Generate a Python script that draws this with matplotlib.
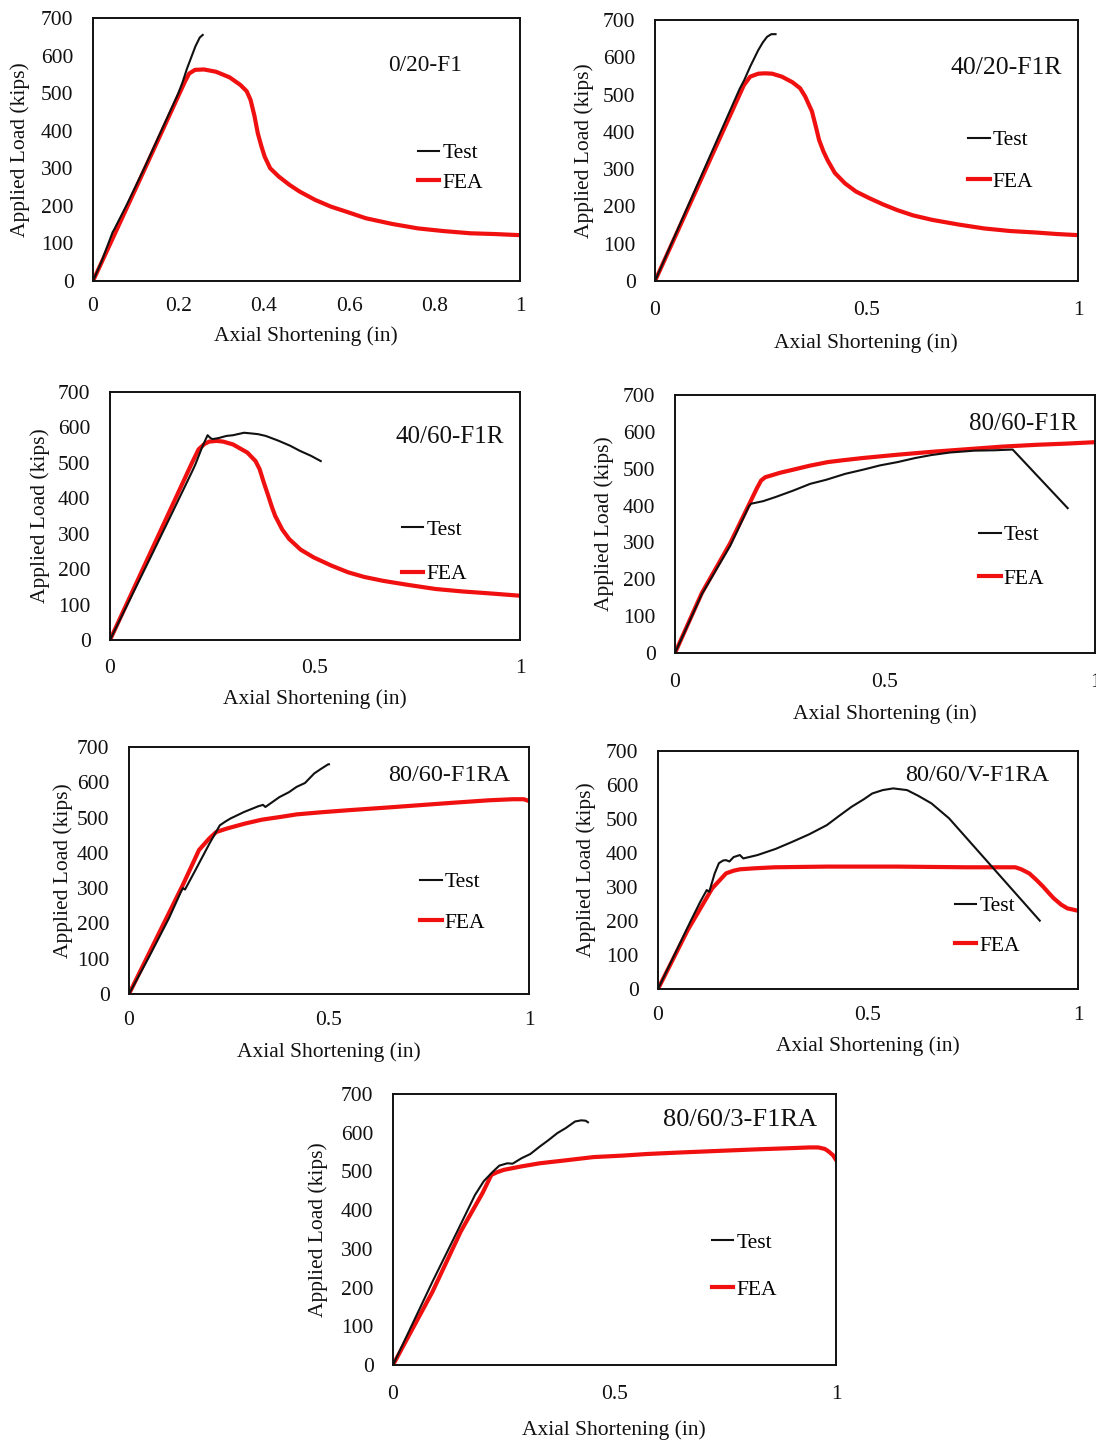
import matplotlib
matplotlib.use("Agg")
import matplotlib.pyplot as plt

# ---------------- data ----------------
titles = ["0/20-F1", "40/20-F1R", "40/60-F1R", "80/60-F1R",
          "80/60-F1RA", "80/60/V-F1RA", "80/60/3-F1RA"]
x_label = "Axial Shortening (in)"
y_label = "Applied Load (kips)"
yticks = [0, 100, 200, 300, 400, 500, 600, 700]
xticks_fine = [0, 0.2, 0.4, 0.6, 0.8, 1]
xticklabels_fine = ["0", "0.2", "0.4", "0.6", "0.8", "1"]
xticks_coarse = [0, 0.5, 1]
xticklabels_coarse = ["0", "0.5", "1"]

# 0/20-F1
p1_test_x = [0, 0.02, 0.04, 0.046, 0.05, 0.08, 0.12, 0.16, 0.20, 0.21, 0.22, 0.23, 0.24, 0.25, 0.257]
p1_test_y = [0, 52, 112, 130, 138, 205, 300, 400, 500, 530, 565, 595, 625, 648, 655]
p1_fea_x = [0, 0.1, 0.2, 0.215, 0.225, 0.239, 0.26, 0.288, 0.32, 0.345, 0.36, 0.369, 0.378, 0.386,
            0.394, 0.402, 0.415, 0.435, 0.46, 0.484, 0.52, 0.557, 0.60, 0.639, 0.70, 0.761, 0.82,
            0.884, 0.94, 1.0]
p1_fea_y = [0, 246, 493, 530, 552, 562, 563, 557, 542, 522, 505, 482, 440, 393,
            360, 331, 300, 278, 256, 238, 216, 198, 182, 167, 152, 140, 133,
            127, 125, 122]

# 40/20-F1R
p2_test_x = [0, 0.1, 0.2, 0.211, 0.225, 0.244, 0.255, 0.265, 0.275, 0.285]
p2_test_y = [0, 258, 515, 539, 575, 619, 640, 655, 662, 662]
p2_fea_x = [0, 0.1, 0.2, 0.21, 0.225, 0.244, 0.26, 0.277, 0.30, 0.325, 0.343, 0.355, 0.365, 0.371,
            0.38, 0.388, 0.398, 0.408, 0.425, 0.449, 0.475, 0.507, 0.54, 0.573, 0.61, 0.655, 0.72,
            0.778, 0.84, 0.901, 0.95, 1.0]
p2_fea_y = [0, 250, 500, 525, 548, 556, 557, 556, 548, 533, 517, 495, 470, 455,
            415, 378, 348, 324, 290, 262, 240, 222, 205, 190, 176, 164, 151,
            141, 134, 130, 126, 123]

# 40/60-F1R
p3_test_x = [0, 0.05, 0.1, 0.15, 0.2, 0.208, 0.225, 0.238, 0.245, 0.250, 0.265, 0.284, 0.30, 0.327,
             0.345, 0.361, 0.38, 0.412, 0.44, 0.463, 0.49, 0.514]
p3_test_y = [0, 118, 236, 355, 475, 495, 545, 578, 570, 567, 570, 576, 578, 585,
             583, 581, 576, 562, 548, 534, 520, 505]
p3_fea_x = [0, 0.1, 0.2, 0.216, 0.23, 0.242, 0.26, 0.276, 0.30, 0.335, 0.355, 0.365, 0.375, 0.386,
            0.395, 0.403, 0.42, 0.437, 0.465, 0.497, 0.54, 0.581, 0.62, 0.666, 0.73, 0.794, 0.86,
            0.921, 1.0]
p3_fea_y = [0, 250, 500, 538, 553, 560, 562, 560, 552, 529, 505, 482, 445, 407,
            375, 350, 312, 285, 255, 233, 210, 191, 178, 167, 155, 144, 137,
            132, 125]

# 80/60-F1R
p4_test_x = [0, 0.064, 0.131, 0.176, 0.181, 0.21, 0.239, 0.28, 0.322, 0.36, 0.405, 0.45, 0.488,
             0.53, 0.572, 0.61, 0.655, 0.713, 0.76, 0.804, 0.935]
p4_test_y = [0, 160, 290, 398, 405, 412, 423, 440, 459, 470, 486, 498, 509,
             518, 529, 537, 544, 549, 550, 552, 393]
p4_fea_x = [0, 0.064, 0.131, 0.181, 0.195, 0.205, 0.215, 0.23, 0.25, 0.28, 0.32, 0.364, 0.40,
            0.447, 0.53, 0.613, 0.696, 0.78, 0.863, 0.93, 1.0]
p4_fea_y = [0, 163, 297, 414, 447, 468, 477, 482, 489, 497, 508, 518, 523,
            529, 538, 546, 553, 560, 565, 568, 572]

# 80/60-F1RA
p5_test_x = [0, 0.05, 0.1, 0.13, 0.135, 0.14, 0.166, 0.201, 0.227, 0.24, 0.253, 0.288, 0.31,
             0.323, 0.335, 0.341, 0.376, 0.40, 0.419, 0.44, 0.463, 0.48, 0.498, 0.5]
p5_test_y = [0, 105, 215, 290, 300, 296, 351, 426, 478, 488, 497, 516, 526,
             532, 536, 530, 558, 572, 587, 598, 625, 638, 651, 651]
p5_fea_x = [0, 0.087, 0.135, 0.175, 0.2, 0.218, 0.245, 0.29, 0.332, 0.38, 0.419, 0.48, 0.55,
            0.64, 0.725, 0.81, 0.9, 0.96, 0.987, 1.0]
p5_fea_y = [0, 200, 310, 408, 440, 459, 469, 483, 494, 502, 509, 515, 521,
            528, 535, 542, 549, 552, 552, 547]

# 80/60/V-F1RA
p6_test_x = [0, 0.037, 0.079, 0.10, 0.116, 0.122, 0.135, 0.145, 0.155, 0.162, 0.170, 0.18, 0.195,
             0.203, 0.237, 0.28, 0.320, 0.36, 0.402, 0.43, 0.461, 0.49, 0.510, 0.535, 0.560,
             0.593, 0.62, 0.651, 0.693, 0.909]
p6_test_y = [0, 95, 203, 255, 291, 286, 340, 370, 378, 379, 375, 388, 394,
             384, 394, 412, 433, 455, 482, 508, 536, 558, 575, 585, 590,
             585, 568, 546, 502, 201]
p6_fea_x = [0, 0.071, 0.129, 0.162, 0.18, 0.195, 0.23, 0.278, 0.402, 0.568, 0.734, 0.80, 0.851,
            0.865, 0.884, 0.90, 0.917, 0.93, 0.942, 0.96, 0.975, 0.99, 1.0]
p6_fea_y = [0, 174, 296, 340, 348, 352, 355, 358, 360, 360, 358, 358, 358,
            352, 340, 322, 301, 283, 267, 248, 237, 233, 230]

# 80/60/3-F1RA
p7_test_x = [0, 0.089, 0.145, 0.185, 0.205, 0.226, 0.24, 0.258, 0.27, 0.29, 0.31, 0.331, 0.35,
             0.371, 0.39, 0.411, 0.425, 0.435, 0.44]
p7_test_y = [0, 215, 345, 439, 475, 500, 515, 521, 520, 534, 545, 564, 580,
             599, 612, 629, 632, 631, 627]
p7_fea_x = [0, 0.089, 0.153, 0.202, 0.222, 0.235, 0.25, 0.29, 0.331, 0.40, 0.452, 0.52, 0.573,
            0.65, 0.734, 0.82, 0.895, 0.94, 0.96, 0.975, 0.984, 0.993, 1.0]
p7_fea_y = [0, 189, 345, 444, 491, 498, 504, 513, 521, 530, 537, 541, 545,
            549, 553, 557, 560, 562, 562, 558, 551, 542, 530]

series = [
    (p1_test_x, p1_test_y, p1_fea_x, p1_fea_y),
    (p2_test_x, p2_test_y, p2_fea_x, p2_fea_y),
    (p3_test_x, p3_test_y, p3_fea_x, p3_fea_y),
    (p4_test_x, p4_test_y, p4_fea_x, p4_fea_y),
    (p5_test_x, p5_test_y, p5_fea_x, p5_fea_y),
    (p6_test_x, p6_test_y, p6_fea_x, p6_fea_y),
    (p7_test_x, p7_test_y, p7_fea_x, p7_fea_y),
]

# ---------------- layout (pixels) ----------------
W, H = 1096, 1445
# (left, right, top, bottom)
rects = [(93, 520, 18, 281), (655, 1078, 20, 281), (110, 520, 392, 640),
         (675, 1095, 395, 653), (129, 529, 747, 994), (658, 1078, 751, 989),
         (393, 836, 1094, 1365)]
fine_ticks = [True, False, False, False, False, False, False]
title_pos = [(0.778, 0.821), (0.83, 0.816), (0.829, 0.819), (0.829, 0.888),
             (0.80, 0.886), (0.76, 0.895), (0.783, 0.904)]
title_size = [16.8, 18.5, 18, 18, 17.5, 17.5, 19]
legend_pos = [(0.761, 0.43), (0.74, 0.46), (0.712, 0.355), (0.724, 0.372),
              (0.7275, 0.37), (0.707, 0.265), (0.72, 0.365)]
legend_sp = [0.45, 1.0, 1.15, 1.1, 0.96, 0.9, 1.25]
xlabel_pos = [(306, 336), (866, 343), (315, 699), (885, 714), (329, 1052), (868, 1046), (614, 1430)]
ylabel_x = [20, 584, 40, 604, 63, 586, 318]
xtick_pad = [11.5, 14.4, 14, 14.4, 12.5, 12.5, 14.4]

plt.rcParams["font.family"] = ["Liberation Serif", "DejaVu Serif"]
fig = plt.figure(figsize=(W / 100, H / 100), dpi=100)
fig.patch.set_facecolor("white")

RED = "#f01010"
for i, (tx, ty, fx, fy) in enumerate(series):
    l, r, t, b = rects[i]
    ax = fig.add_axes([l / W, 1 - b / H, (r - l) / W, (b - t) / H])
    ax.plot(tx, ty, color="#111111", lw=1.5, label="Test", zorder=3)
    ax.plot(fx, fy, color=RED, lw=3.0, label="FEA", zorder=2)
    ax.set_xlim(0, 1)
    ax.set_ylim(0, 700)
    ax.set_yticks(yticks)
    ax.set_yticklabels([str(v) for v in yticks])
    if fine_ticks[i]:
        ax.set_xticks(xticks_fine)
        ax.set_xticklabels(xticklabels_fine)
    else:
        ax.set_xticks(xticks_coarse)
        ax.set_xticklabels(xticklabels_coarse)
    ax.tick_params(axis="both", length=0, labelsize=15.5, colors="#111111")
    ax.tick_params(axis="y", pad=14)
    ax.tick_params(axis="x", pad=xtick_pad[i])
    for s in ax.spines.values():
        s.set_linewidth(1.4)
        s.set_color("#111111")
    ax.text(title_pos[i][0], title_pos[i][1], titles[i], transform=ax.transAxes,
            ha="center", va="center", fontsize=title_size[i], color="#111111")
    ax.legend(loc="center left", bbox_to_anchor=legend_pos[i], frameon=False,
              handlelength=1.0, handletextpad=0.15, labelspacing=legend_sp[i],
              borderpad=0, borderaxespad=0, fontsize=15.5)
    fig.text(xlabel_pos[i][0] / W, 1 - xlabel_pos[i][1] / H, x_label,
             ha="center", va="center", fontsize=15.5, color="#111111")
    fig.text(ylabel_x[i] / W, 1 - ((t + b) / 2) / H, y_label, rotation=90,
             ha="center", va="center", fontsize=15.5, color="#111111")

fig.savefig("out.png", dpi=100, facecolor="white")
